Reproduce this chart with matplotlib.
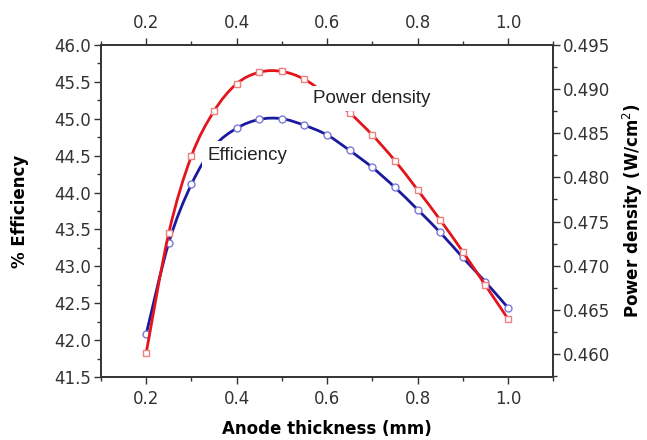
import numpy as np
import matplotlib.pyplot as plt
from matplotlib.path import Path
from matplotlib.patches import PathPatch
from matplotlib.ticker import MultipleLocator, FormatStrFormatter

thickness = [0.2, 0.25, 0.3, 0.35, 0.4, 0.45, 0.5, 0.55, 0.6,
             0.65, 0.7, 0.75, 0.8, 0.85, 0.9, 0.95, 1.0]
efficiency = [42.08, 43.32, 44.11, 44.62, 44.87, 44.99, 45.0, 44.91, 44.78,
              44.57, 44.34, 44.07, 43.77, 43.46, 43.12, 42.79, 42.44]
power_density = [0.4601, 0.4737, 0.4824, 0.4875, 0.4906, 0.4919, 0.4920, 0.4911, 0.4893,
                 0.4873, 0.4848, 0.4819, 0.4786, 0.4752, 0.4716, 0.4678, 0.4640]

red = '#e3141b'
blue = '#1a1a9e'


def smooth_path(ax, xs, ys, color):
    # catmull-rom curve through the points, drawn in data coords
    x = np.asarray(xs, float)
    y = np.asarray(ys, float)
    verts = [(x[0], y[0])]
    codes = [Path.MOVETO]
    n = len(x)
    for i in range(n - 1):
        p0 = i - 1 if i > 0 else i
        p3 = i + 2 if i + 2 < n else i + 1
        c1 = (x[i] + (x[i + 1] - x[p0]) / 6, y[i] + (y[i + 1] - y[p0]) / 6)
        c2 = (x[i + 1] - (x[p3] - x[i]) / 6, y[i + 1] - (y[p3] - y[i]) / 6)
        verts += [c1, c2, (x[i + 1], y[i + 1])]
        codes += [Path.CURVE4] * 3
    ax.add_patch(PathPatch(Path(verts, codes), fill=False, edgecolor=color,
                           lw=2.0, zorder=2))


fig = plt.figure(figsize=(6.47, 4.40), dpi=100)
ax = fig.add_axes([0.156, 0.143, 0.699, 0.755])
ax2 = ax.twinx()

smooth_path(ax, thickness, efficiency, blue)
ax.plot(thickness, efficiency, 'o', ms=5, mfc='white', mec='#7a7ad6', mew=1.0, zorder=3)
smooth_path(ax2, thickness, power_density, red)
ax2.plot(thickness, power_density, 's', ms=5, mfc='white', mec='#ee8080', mew=1.0, zorder=3)

ax.set_xlim(0.1, 1.1)
ax.set_ylim(41.5, 46.0)
ax2.set_ylim(0.4574, 0.495)

ax.xaxis.set_major_locator(MultipleLocator(0.2))
ax.xaxis.set_minor_locator(MultipleLocator(0.1))
ax.xaxis.set_major_formatter(FormatStrFormatter('%.1f'))
ax.yaxis.set_major_locator(MultipleLocator(0.5))
ax.yaxis.set_minor_locator(MultipleLocator(0.25))
ax.yaxis.set_major_formatter(FormatStrFormatter('%.1f'))
ax2.yaxis.set_major_locator(MultipleLocator(0.005))
ax2.yaxis.set_minor_locator(MultipleLocator(0.0025))
ax2.yaxis.set_major_formatter(FormatStrFormatter('%.3f'))

ax.tick_params(axis='x', which='both', direction='out', top=True, labeltop=True,
               labelsize=12, colors='#333333')
ax.tick_params(axis='y', which='both', direction='out', labelsize=12, colors='#333333')
ax2.tick_params(axis='y', which='both', direction='out', labelsize=12, colors='#333333')
for a in (ax, ax2):
    a.tick_params(which='major', length=5, width=1, pad=2)
    a.tick_params(which='minor', length=3, width=1)
    for s in a.spines.values():
        s.set_color('#333333')
        s.set_linewidth(1.2)
ax.tick_params(axis='x', which='major', pad=4)

ax.set_xlabel('Anode thickness (mm)', fontsize=12, fontweight='bold')
ax.set_ylabel('% Efficiency', fontsize=12, fontweight='bold')
ax2.set_ylabel('Power density (W/cm$^2$)', fontsize=12, fontweight='bold')
ax.xaxis.set_label_coords(0.5, -0.13)
ax.yaxis.set_label_coords(-0.16, 0.5)
ax2.yaxis.set_label_coords(1.15, 0.5)

ax2.text(0.335, 44.5, 'Efficiency', transform=ax.transData, fontsize=13.5,
         family='Liberation Sans', va='center', ha='left', color='#222222', zorder=5,
         bbox=dict(facecolor='white', edgecolor='none', pad=4))
ax2.text(0.57, 45.27, 'Power density', transform=ax.transData, fontsize=13.5,
         family='Liberation Sans', va='center', ha='left', color='#222222', zorder=5,
         bbox=dict(facecolor='white', edgecolor='none', pad=3))

fig.savefig('out.png', dpi=100)
